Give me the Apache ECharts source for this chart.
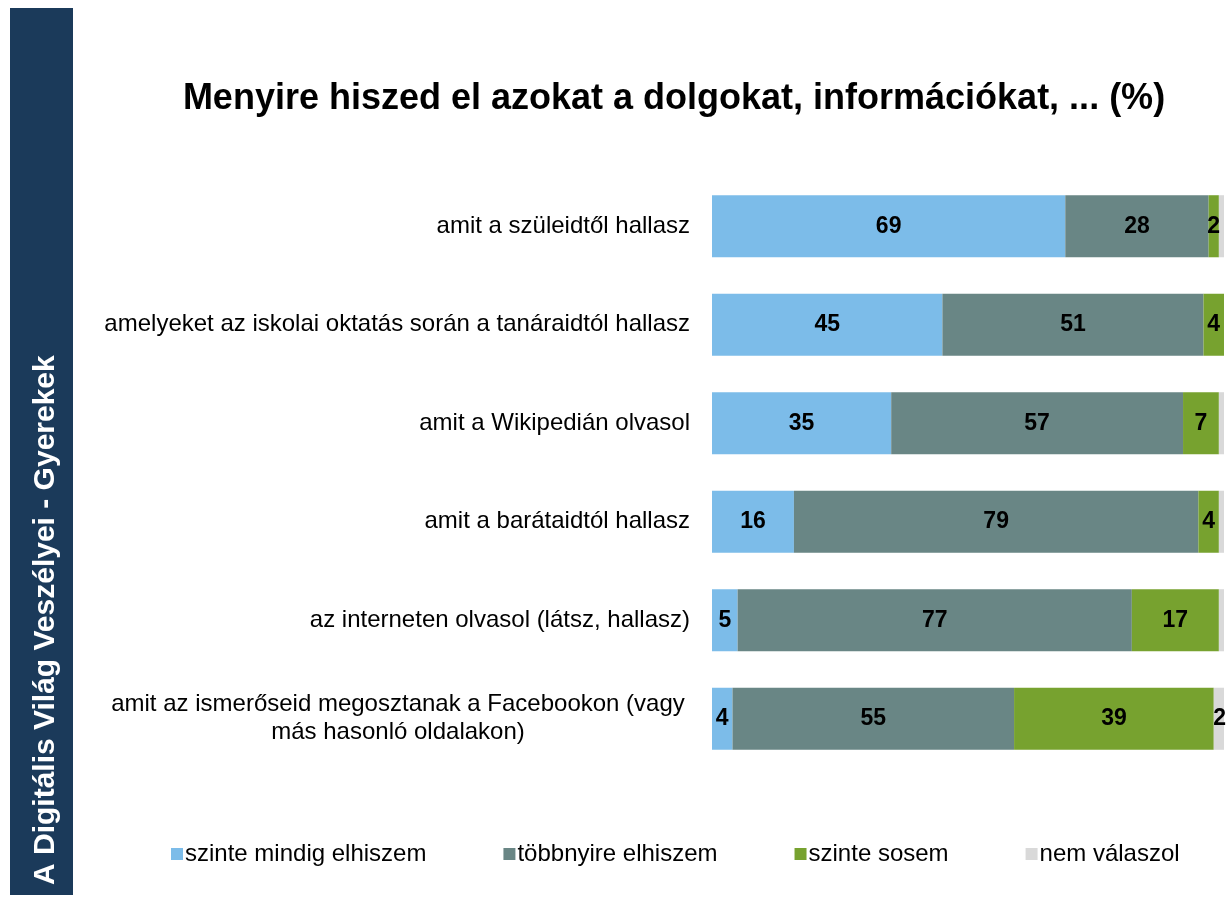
<!DOCTYPE html>
<html><head><meta charset="utf-8">
<script src="https://cdn.jsdelivr.net/npm/echarts@6/dist/echarts.min.js"></script>
<style>html,body{margin:0;padding:0;background:#fff}#c{width:1230px;height:905px}</style>
</head><body><div id="c"></div>
<script>
const categories = [
  "amit a szüleidtől hallasz",
  "amelyeket az iskolai oktatás során a tanáraidtól hallasz",
  "amit a Wikipedián olvasol",
  "amit a barátaidtól hallasz",
  "az interneten olvasol (látsz, hallasz)",
  "amit az ismerőseid megosztanak a Facebookon (vagy\nmás hasonló oldalakon)"
];
const seriesNames = ["szinte mindig elhiszem", "többnyire elhiszem", "szinte sosem", "nem válaszol"];
const mindig = [69, 45, 35, 16, 5, 4];
const tobbnyire = [28, 51, 57, 79, 77, 55];
const sosem = [2, 4, 7, 4, 17, 39];
const nemValaszol = [1, 0.5, 1, 1, 1, 2];
const colors = ["#7cbce9", "#698685", "#77a22f", "#d9d9d9"];

const chart = echarts.init(document.getElementById('c'));
const font = "Liberation Sans, Arial, sans-serif";
function mk(name, data, color, i) {
  return {
    name: name, type: 'bar', stack: 'all', data: data,
    barCategoryGap: '37%',
    itemStyle: { color: color },
    label: {
      show: true, position: i === 3 ? 'insideRight' : 'inside',
      color: '#000', fontWeight: 'bold', fontSize: 23, fontFamily: font,
      offset: i === 3 ? [7, 0] : [0, 0],
      formatter: p => (i === 3 && p.value < 2) ? '' : String(p.value)
    },
    emphasis: { disabled: true }
  };
}
chart.setOption({
  animation: false,
  color: colors,
  title: {
    text: 'Menyire hiszed el azokat a dolgokat, információkat, ... (%)',
    left: 669, top: 76, textAlign: 'center',
    textStyle: { fontFamily: font, fontWeight: 'bold', fontSize: 36, color: '#000' }
  },
  legend: {
    top: 837, left: 166, itemGap: 77, itemWidth: 12, itemHeight: 12,
    icon: 'rect',
    textStyle: { fontFamily: font, fontSize: 24, color: '#000', padding: [0, 0, 0, -3] },
    data: seriesNames
  },
  grid: { left: 712, right: 6, top: 177, bottom: 137 },
  xAxis: { type: 'value', min: 0, max: 100, show: false },
  yAxis: {
    type: 'category', data: categories, inverse: true,
    axisLine: { show: false }, axisTick: { show: false },
    axisLabel: {
      margin: 22, fontFamily: font, fontSize: 24, color: '#000', lineHeight: 28,
      formatter: v => v.indexOf('\n') >= 0 ? '{c|' + v.split('\n').join('}\n{c|') + '}' : v,
      rich: { c: { width: 584, align: 'center', fontFamily: font, fontSize: 24, color: '#000', lineHeight: 28 } }
    }
  },
  graphic: [
    { type: 'rect', shape: { x: 10, y: 8, width: 63, height: 887 }, style: { fill: '#1b3a5a' } },
    { type: 'text', x: 46, y: 885, rotation: Math.PI / 2,
      style: { text: 'A Digitális Világ Veszélyei - Gyerekek', fill: '#fff', font: 'bold 30px ' + font,
        textAlign: 'left', textVerticalAlign: 'middle' } }
  ],
  series: [
    mk(seriesNames[0], mindig, colors[0], 0),
    mk(seriesNames[1], tobbnyire, colors[1], 1),
    mk(seriesNames[2], sosem, colors[2], 2),
    mk(seriesNames[3], nemValaszol, colors[3], 3)
  ]
});
</script></body></html>
